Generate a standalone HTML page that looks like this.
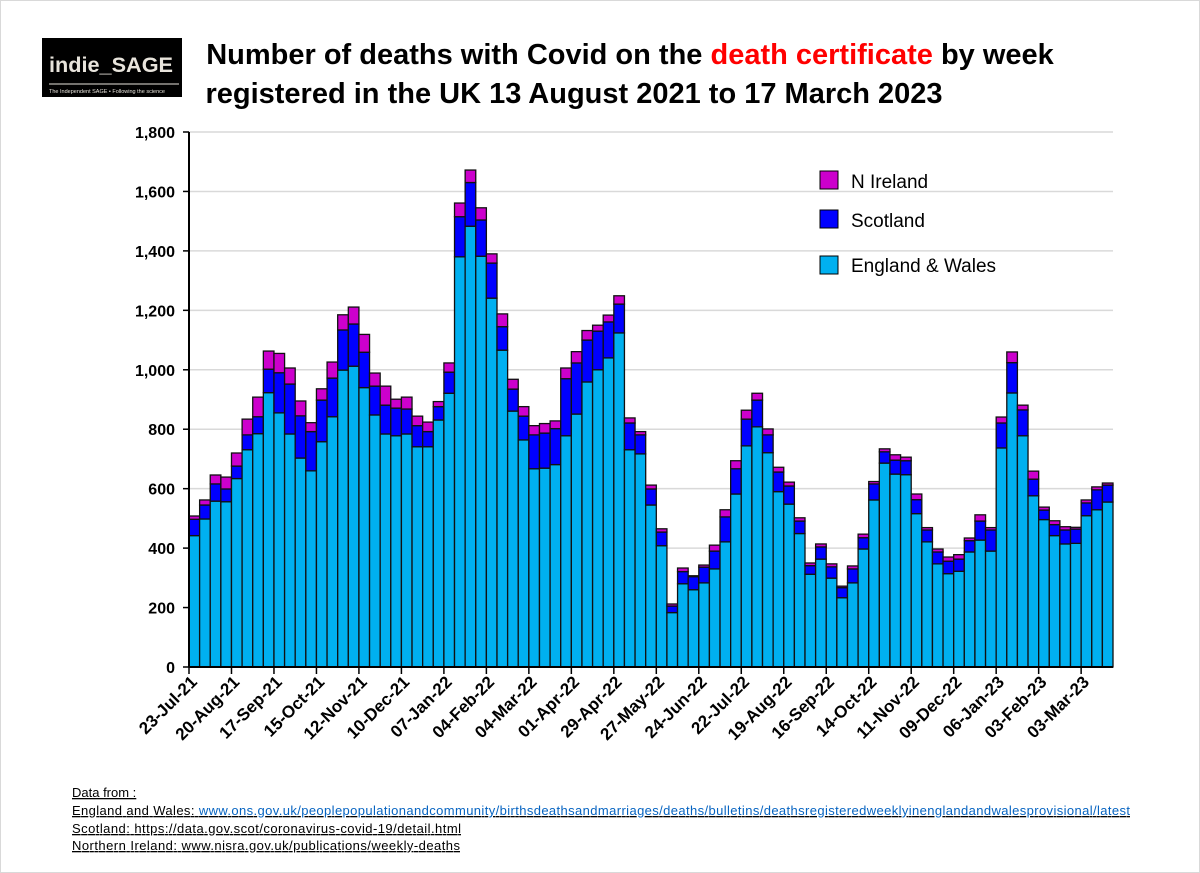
<!DOCTYPE html>
<html><head><meta charset="utf-8"><style>
body{margin:0;background:#fff;}
svg{display:block;font-family:"Liberation Sans",sans-serif;}
</style></head><body>
<svg id="chart" width="1200" height="873" viewBox="0 0 1200 873" xmlns="http://www.w3.org/2000/svg">
<rect x="0.5" y="0.5" width="1199" height="872" fill="#fff" stroke="#d9d9d9"/>
<g>
<rect x="42" y="38" width="140" height="59" fill="#000"/>
<text x="49" y="72" font-size="21" font-weight="bold" fill="#e8e4dc" textLength="124" lengthAdjust="spacingAndGlyphs">indie_SAGE</text>
<line x1="49" y1="84" x2="179" y2="84" stroke="#e8e4dc" stroke-width="1"/>
<text x="49" y="93" font-size="5.5" fill="#e8e4dc">The Independent SAGE • Following the science</text>
</g>
<text x="630" y="64" font-size="29" font-weight="bold" text-anchor="middle">Number of deaths with Covid on the <tspan fill="#ff0000">death certificate</tspan> by week</text>
<text x="574" y="103" font-size="29" font-weight="bold" text-anchor="middle">registered in the UK 13 August 2021 to 17 March 2023</text>
<g id="grid"></g>
<g id="bars"></g>
<g id="axes"></g>
<g>
<rect x="820" y="171" width="18" height="18" fill="#cc00cc" stroke="#000"/>
<text x="851" y="188" font-size="19">N Ireland</text>
<rect x="820" y="210" width="18" height="18" fill="#0000ff" stroke="#000"/>
<text x="851" y="227" font-size="19">Scotland</text>
<rect x="820" y="256" width="18" height="18" fill="#00b0f0" stroke="#000"/>
<text x="851" y="272" font-size="19">England &amp; Wales</text>
</g>
<g font-size="13" fill="#000" text-decoration="underline">
<text x="72" y="797">Data from :</text>
<text x="72" y="815" textLength="1058" lengthAdjust="spacing">England and Wales: <tspan fill="#0563c1">www.ons.gov.uk/peoplepopulationandcommunity/birthsdeathsandmarriages/deaths/bulletins/deathsregisteredweeklyinenglandandwalesprovisional/latest</tspan></text>
<text x="72" y="833" textLength="389" lengthAdjust="spacing">Scotland: https://data.gov.scot/coronavirus-covid-19/detail.html</text>
<text x="72" y="850" textLength="388" lengthAdjust="spacing">Northern Ireland: www.nisra.gov.uk/publications/weekly-deaths</text>
</g>
</svg>
<script>
const ewValues=[442,498,558,556,634,731,785,923,855,784,703,660,758,842,999,1012,940,848,784,778,784,741,741,831,921,1380,1483,1382,1241,1066,861,764,667,669,681,778,851,959,1000,1040,1124,731,717,545,408,183,280,260,283,330,421,582,744,808,721,590,548,449,312,363,299,233,283,397,562,686,649,647,516,421,347,314,322,387,427,390,737,922,778,576,496,442,414,416,509,529,555];
const scotValues=[55,47,58,43,42,50,57,79,135,168,142,132,140,130,135,142,119,97,97,93,84,71,51,45,71,135,147,122,118,79,74,80,114,118,121,192,172,141,130,121,97,90,64,54,46,22,41,44,53,60,84,85,90,90,60,66,61,42,29,41,38,34,47,38,54,38,47,47,47,40,40,42,41,38,64,71,84,102,87,56,32,37,47,48,43,67,57];
const niValues=[11,17,30,40,44,53,66,61,65,54,50,30,38,54,51,57,60,44,64,30,40,32,32,17,31,46,42,41,31,43,33,32,31,32,26,36,38,32,20,23,28,17,11,13,11,7,12,3,7,20,24,27,30,23,20,16,13,11,9,10,10,5,10,12,8,10,18,12,19,8,10,14,15,9,21,8,20,36,16,27,10,13,11,6,10,10,7];
const dateLabels=["23-Jul-21","20-Aug-21","17-Sep-21","15-Oct-21","12-Nov-21","10-Dec-21","07-Jan-22","04-Feb-22","04-Mar-22","01-Apr-22","29-Apr-22","27-May-22","24-Jun-22","22-Jul-22","19-Aug-22","16-Sep-22","14-Oct-22","11-Nov-22","09-Dec-22","06-Jan-23","03-Feb-23","03-Mar-23"];
const yTicks=[0,200,400,600,800,1000,1200,1400,1600,1800];

const NS="http://www.w3.org/2000/svg";
const X0=189,X1=1113,Y0=667,Y1=132,YMAX=1800;
const n=ewValues.length;
const bw=(X1-X0)/n;
const xs=i=>X0+i*bw;
const ys=v=>Y0-v/YMAX*(Y0-Y1);
function mk(tag,attrs,parent){const e=document.createElementNS(NS,tag);for(const k in attrs)e.setAttribute(k,attrs[k]);parent.appendChild(e);return e;}
const grid=document.getElementById('grid'),bars=document.getElementById('bars'),axes=document.getElementById('axes');
yTicks.forEach(t=>{
  if(t>0){const g=mk('line',{x1:X0,x2:X1,y1:ys(t),y2:ys(t),stroke:'#d9d9d9','stroke-width':1.5},grid);
  
  }
  const tk=mk('line',{x1:X0-6,x2:X0,y1:ys(t),y2:ys(t),stroke:'#000','stroke-width':1.5},axes);
  
  
  const lb=mk('text',{x:X0-14,y:ys(t)+6,'text-anchor':'end','font-size':16,'font-weight':'bold'},axes);
  lb.textContent=t.toLocaleString('en-US');
  
  
});
for(let i=0;i<n;i++){
  const x=xs(i);
  const segs=[[0,ewValues[i],'#00b0f0','bar-england-wales'],[ewValues[i],ewValues[i]+scotValues[i],'#0000ff','bar-scotland'],[ewValues[i]+scotValues[i],ewValues[i]+scotValues[i]+niValues[i],'#cc00cc','bar-n-ireland']];
  segs.forEach(s=>{
    const r=mk('rect',{x:x,y:ys(s[1]),width:bw,height:ys(s[0])-ys(s[1]),fill:s[2],stroke:'#111','stroke-width':1.3},bars);
    
    
  });
}
const ya=mk('line',{x1:X0,x2:X0,y1:Y1,y2:Y0,stroke:'#000','stroke-width':2},axes);


const xa=mk('line',{x1:X0,x2:X1,y1:Y0,y2:Y0,stroke:'#000','stroke-width':2},axes);


dateLabels.forEach((d,k)=>{
  const x=xs(k*4);
  const tk=mk('line',{x1:x,x2:x,y1:Y0,y2:Y0+7,stroke:'#000','stroke-width':1.5},axes);
  
  
  const t=mk('text',{x:x+9,y:Y0+16,'text-anchor':'end','font-size':17,'font-weight':'bold',transform:`rotate(-45 ${x+9} ${Y0+16})`},axes);
  t.textContent=d;
  
  
});
</script>
</body></html>
